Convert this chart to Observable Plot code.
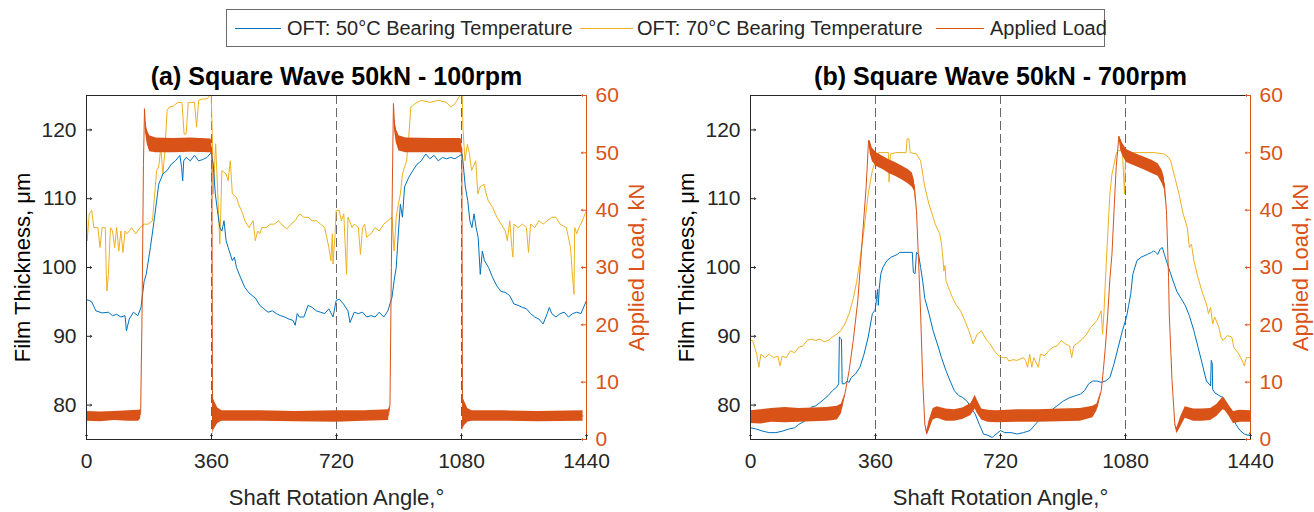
<!DOCTYPE html>
<html><head><meta charset="utf-8">
<script src="https://cdn.jsdelivr.net/npm/d3@7"></script>
<script src="https://cdn.jsdelivr.net/npm/@observablehq/plot@0.6"></script>
<style>
body{margin:0;background:#fff;font-family:"Liberation Sans",Arial,Helvetica,sans-serif;}
#wrap{position:relative;width:1314px;height:512px;overflow:hidden;background:#fff}
#legend{position:absolute;left:226px;top:9px;width:877px;height:36px;border:1px solid #6b6b6b;background:#fff}
#legend .ln{position:absolute;top:18px;height:0;border-top:1.4px solid}
#legend .tx{position:absolute;top:0;line-height:37px;font-size:20px;color:#262626;white-space:nowrap}
.panel{position:absolute;top:55px}
</style></head><body>
<div id="wrap">
  <div id="legend"></div>
  <div class="panel" id="pa" style="left:0px"></div>
  <div class="panel" id="pb" style="left:657px"></div>
</div>
<script>
// ---------- data ----------
const seriesNames = ["OFT: 50°C Bearing Temperature", "OFT: 70°C Bearing Temperature", "Applied Load"];
const seriesColors = ["#0072BD", "#EDB120", "#D95319"];
const titles = ["(a) Square Wave 50kN - 100rpm", "(b) Square Wave 50kN - 700rpm"];
const xTicks = [0, 360, 720, 1080, 1440];
const dashAngles = [360, 720, 1080];
const thickTicks = [80, 90, 100, 110, 120];
const loadTicks = [0, 10, 20, 30, 40, 50, 60];
const thickDomain = [75, 125];
const loadDomain = [0, 60];

// panel (a): [angle, film thickness um]
const blueA = [[0,95.3],[8,95.2],[15,95.0],[27,93.7],[45,93.4],[63,93.5],[75,93.0],[87,93.2],[99,92.8],[111,93.0],[115,90.8],[123,92.5],[135,93.5],[148,93.0],[157,94.2],[166,98.0],[172,99.0],[184,102.9],[196,107.3],[208,112.1],[220,113.6],[232,114.1],[244,115.0],[256,115.5],[269,116.3],[274,114.5],[277,112.6],[280,115.5],[287,116.0],[299,115.5],[311,116.3],[323,115.5],[335,115.7],[347,116.0],[359,116.7],[365,115.0],[371,110.7],[377,108.3],[384,105.8],[390,105.3],[396,106.8],[402,103.9],[408,102.9],[420,101.0],[426,101.5],[432,100.0],[444,98.5],[456,97.1],[468,96.3],[480,95.8],[486,95.6],[499,94.5],[511,94.0],[523,93.5],[535,93.7],[547,93.3],[559,93.0],[571,92.8],[583,92.5],[595,92.3],[601,91.6],[607,93.3],[613,92.8],[626,92.8],[638,94.5],[650,94.2],[662,93.7],[674,93.5],[686,93.3],[698,94.0],[710,92.8],[719,95.2],[728,95.4],[740,94.7],[753,93.7],[759,92.0],[771,93.5],[783,93.3],[795,93.5],[807,92.8],[819,93.0],[831,92.8],[843,93.5],[856,92.8],[868,93.7],[880,95.7],[886,98.1],[892,100.0],[898,104.9],[904,109.2],[910,107.3],[916,111.7],[928,113.1],[940,114.1],[952,115.0],[964,115.5],[977,116.5],[989,115.8],[1001,116.3],[1013,115.5],[1025,116.0],[1037,115.8],[1049,116.0],[1061,115.8],[1082,116.5],[1084,115.5],[1091,111.7],[1098,109.7],[1104,106.8],[1110,105.8],[1116,107.8],[1122,105.8],[1128,104.4],[1134,99.0],[1140,102.4],[1146,101.0],[1158,100.0],[1170,98.5],[1182,97.3],[1194,96.5],[1206,96.4],[1219,95.9],[1231,94.7],[1243,94.5],[1255,94.2],[1267,94.0],[1279,93.3],[1291,92.8],[1303,92.5],[1315,91.8],[1327,93.3],[1333,94.2],[1340,93.3],[1352,92.8],[1364,93.3],[1376,93.5],[1388,92.8],[1400,93.3],[1412,93.5],[1424,93.3],[1440,95.2]];
const yellowA = [[0,108.3],[2,103.9],[8,107.8],[15,108.3],[21,105.8],[33,105.8],[39,102.9],[45,105.8],[54,105.8],[57,99.0],[59,96.6],[63,99.0],[69,105.8],[75,105.3],[81,102.9],[87,105.8],[93,102.4],[99,105.3],[105,102.2],[111,105.3],[117,104.9],[130,105.8],[142,104.9],[154,105.8],[166,106.3],[178,106.3],[190,106.8],[202,114.1],[208,114.6],[214,117.5],[220,113.6],[226,117.0],[232,122.8],[238,123.3],[251,123.5],[263,124.0],[275,124.0],[281,119.4],[287,119.4],[293,124.0],[311,124.0],[317,120.4],[323,124.3],[335,124.5],[347,124.5],[359,125.2],[363,118.0],[365,110.7],[372,118.0],[378,110.7],[384,103.4],[390,114.1],[402,113.6],[408,112.6],[414,115.5],[420,110.7],[432,110.2],[438,109.2],[450,107.8],[456,106.8],[468,105.8],[480,106.8],[486,103.9],[493,105.3],[499,104.9],[505,105.8],[517,105.8],[529,106.3],[541,106.3],[553,106.8],[565,106.1],[577,105.6],[589,106.3],[601,106.8],[607,107.3],[614,107.8],[626,107.3],[638,107.3],[650,106.8],[662,106.8],[674,106.3],[686,105.8],[698,102.9],[704,101.0],[708,104.9],[710,100.5],[716,104.9],[719,108.3],[728,108.3],[734,106.8],[741,107.8],[747,101.0],[749,99.0],[753,107.3],[765,105.8],[771,106.3],[783,105.8],[789,101.9],[795,105.8],[801,106.3],[807,104.4],[819,104.9],[831,105.8],[843,105.3],[856,106.3],[868,106.8],[880,107.3],[886,102.4],[892,107.3],[898,109.2],[904,110.7],[910,113.6],[916,114.6],[922,115.5],[928,118.9],[934,123.3],[946,123.8],[964,124.3],[989,124.0],[1013,124.3],[1037,124.0],[1049,123.3],[1061,123.8],[1073,124.8],[1082,125.2],[1084,120.4],[1090,115.5],[1097,117.9],[1103,116.5],[1109,114.1],[1121,115.5],[1127,110.7],[1133,111.7],[1145,112.1],[1151,110.7],[1157,109.7],[1170,108.7],[1182,107.3],[1194,106.3],[1206,105.3],[1212,103.9],[1219,106.8],[1225,102.9],[1228,101.5],[1231,106.3],[1243,105.8],[1255,106.3],[1267,105.8],[1273,102.2],[1279,106.3],[1291,105.8],[1303,106.8],[1315,106.3],[1327,106.8],[1340,107.3],[1352,107.3],[1364,106.3],[1382,105.8],[1394,102.9],[1400,98.5],[1404,96.1],[1406,105.8],[1412,104.9],[1418,105.8],[1424,106.3],[1436,107.8],[1440,108.3]];
// panel (a): [angle, load low kN, load high kN] (noise band)
const loadA = [[0,3.2,4.9],[40,3.1,4.8],[80,3.3,4.9],[120,3.2,5.0],[150,3.2,5.1],[156,3.6,5.2],[160,22,22],[164,48,48],[167,57.7,57.7],[170,53.5,55.5],[175,51.5,54],[182,50.2,53],[200,50,52.6],[250,50,52.5],[300,50.1,52.6],[358,50,52.4],[361,49.5,52],[362,28,28],[363,0.8,3],[365,1.5,7.2],[370,2.0,6.5],[378,2.8,5.5],[390,3.2,5.0],[500,3.2,5.0],[600,3.1,4.9],[720,3.0,5.0],[800,3.2,5.0],[870,3.3,5.2],[874,6,6],[878,30,30],[882,50,50],[884,58.6,58.6],[887,54,56],[892,51.8,54.2],[900,50.3,53],[920,50,52.6],[1000,50,52.5],[1078,50,52.5],[1081,49.5,52],[1082,28,28],[1083,1.5,4],[1085,2,7.2],[1090,2.5,6.5],[1098,3.0,5.4],[1110,3.2,5.0],[1200,3.2,5.0],[1300,3.1,4.9],[1430,3.2,5.0]];

// panel (b)
const blueB = [[0,76.7],[18,76.5],[36,76.2],[54,76.0],[73,76.0],[91,76.2],[109,76.5],[127,76.7],[139,77.2],[157,77.7],[169,78.7],[175,79.7],[188,79.9],[206,80.6],[224,81.4],[236,82.1],[248,82.6],[254,83.1],[256,89.9],[262,89.6],[264,83.1],[272,83.1],[278,83.5],[284,83.3],[290,84.0],[302,84.5],[315,85.5],[327,87.4],[339,89.9],[351,93.3],[359,93.8],[363,95.5],[366,96.8],[368,94.5],[371,97.0],[375,99.0],[381,100.0],[393,101.0],[405,101.5],[423,101.9],[430,102.2],[448,102.2],[466,102.2],[469,99.3],[474,99.1],[478,102.2],[484,101.9],[490,100.0],[496,98.0],[502,95.5],[514,93.3],[526,90.8],[538,88.9],[550,86.9],[563,85.0],[575,83.5],[587,82.1],[599,81.4],[611,81.1],[623,80.6],[635,79.7],[647,78.7],[659,77.2],[671,75.8],[684,75.6],[696,75.3],[708,75.8],[720,76.3],[732,76.0],[750,76.0],[768,75.8],[786,76.0],[805,76.3],[817,77.0],[829,77.7],[847,78.4],[865,79.2],[883,79.9],[901,80.6],[920,81.1],[938,81.4],[950,81.6],[962,82.1],[974,83.1],[986,83.5],[998,83.5],[1010,83.3],[1022,83.5],[1035,84.0],[1047,86.0],[1059,88.4],[1071,90.8],[1083,92.8],[1089,94.5],[1095,96.1],[1101,99.0],[1113,101.0],[1125,101.5],[1143,101.9],[1155,102.2],[1161,102.4],[1167,102.2],[1173,101.9],[1180,102.7],[1186,102.9],[1192,101.9],[1204,100.0],[1216,98.2],[1228,96.5],[1240,95.5],[1252,94.5],[1264,93.0],[1277,90.8],[1289,88.4],[1301,86.0],[1313,83.5],[1325,82.8],[1327,86.5],[1330,86.0],[1331,82.3],[1337,81.8],[1349,81.4],[1361,81.1],[1373,80.1],[1386,78.7],[1398,77.2],[1410,76.3],[1422,75.8],[1434,75.6],[1440,76.1]];
const yellowB = [[0,89.4],[6,89.4],[12,88.4],[18,87.4],[24,85.5],[30,87.4],[42,86.9],[54,87.4],[66,86.9],[79,87.1],[85,85.7],[91,87.1],[103,86.9],[115,87.9],[127,87.6],[139,88.4],[151,88.6],[163,89.4],[175,89.6],[188,89.4],[200,89.6],[212,89.2],[224,89.4],[236,89.9],[248,90.3],[260,90.8],[272,91.8],[284,93.3],[296,95.5],[306,98.0],[315,101.0],[327,105.5],[339,110.7],[351,114.1],[363,116.0],[369,116.7],[397,116.7],[399,112.4],[403,116.5],[418,116.7],[448,116.7],[451,118.7],[456,118.7],[460,116.7],[478,116.5],[490,115.5],[502,111.7],[514,109.2],[526,107.3],[532,106.3],[545,104.9],[550,103.4],[554,101.5],[557,99.5],[560,100.3],[563,98.1],[570,97.1],[581,95.7],[593,94.5],[605,93.7],[617,92.3],[629,90.8],[641,88.9],[653,90.3],[665,90.8],[678,89.6],[690,88.9],[702,87.9],[714,87.2],[726,86.9],[738,86.9],[744,86.4],[756,86.6],[768,86.5],[786,86.9],[792,86.5],[798,85.5],[804,87.4],[810,85.5],[816,86.9],[829,85.5],[835,87.4],[847,87.2],[859,87.9],[871,88.4],[883,88.6],[895,89.4],[907,88.9],[919,88.6],[925,86.9],[931,88.6],[944,89.1],[956,89.6],[968,90.3],[980,91.3],[998,92.3],[1010,93.7],[1014,90.3],[1018,93.5],[1022,98.0],[1028,104.0],[1035,110.7],[1041,113.6],[1047,115.0],[1053,116.5],[1059,117.0],[1071,117.0],[1077,110.7],[1080,115.9],[1089,116.7],[1119,116.7],[1162,116.7],[1192,116.5],[1204,116.0],[1210,115.5],[1222,113.1],[1234,110.7],[1246,107.8],[1258,105.8],[1264,102.9],[1270,103.4],[1277,101.0],[1289,98.5],[1301,96.4],[1313,94.7],[1319,93.3],[1325,94.2],[1331,91.8],[1337,92.8],[1349,91.3],[1355,89.9],[1361,89.4],[1373,90.1],[1386,89.9],[1392,88.4],[1404,87.6],[1416,86.5],[1422,85.7],[1428,86.9],[1440,86.9]];
const loadB = [[0,2.8,5.0],[30,2.7,5.2],[60,3.0,5.4],[100,2.9,5.6],[140,3.0,5.4],[180,3.1,5.5],[220,3.2,5.6],[250,3.4,5.8],[262,4.5,6.2],[272,8,8],[284,12,12],[296,17.3,17.3],[309,24.2,24.2],[321,34.1,34.1],[333,44,44],[340,52.2,52.2],[345,49.8,52],[351,48.5,50.8],[363,47.6,50],[381,47.1,49.4],[399,46.4,48.8],[417,45.9,48.3],[436,45.3,47.7],[454,44.6,47.1],[466,44.0,46.5],[472,43.3,45.2],[478,39.9,39.9],[484,31.2,31.2],[490,21.9,21.9],[496,10.3,10.3],[502,2.7,2.7],[508,0.7,1.5],[514,1.5,3.2],[526,3.4,5.4],[538,3.7,5.7],[563,3.2,5.3],[587,3.2,5.2],[611,3.5,5.5],[635,4.2,6.3],[647,5.3,7.7],[653,4.6,6.9],[666,3.4,5.3],[684,3.0,5.1],[708,2.9,5.0],[770,3.0,5.2],[829,3.0,5.2],[890,3.1,5.3],[950,3.2,5.4],[986,3.8,5.8],[998,5.0,6.2],[1010,8.5,8.5],[1016,12,12],[1022,16.1,16.1],[1029,21.9,21.9],[1035,28,28],[1041,32.3,32.3],[1047,39.9,39.9],[1053,47.4,47.4],[1061,52.9,52.9],[1066,50.5,52.5],[1071,49.6,51.7],[1083,48.3,50.6],[1107,47.7,49.9],[1131,47.1,49.3],[1156,46.4,48.7],[1174,45.9,48.1],[1186,44.6,46.9],[1192,43.6,45.6],[1198,39.9,39.9],[1204,28.3,28.3],[1206,21.9,21.9],[1214,10.3,10.3],[1222,2.7,2.7],[1228,1.0,2.0],[1240,2.3,4.1],[1252,3.7,5.7],[1276,3.2,5.3],[1301,3.2,5.3],[1325,3.3,5.4],[1343,4.0,6.1],[1361,5.2,7.4],[1367,5.0,7.0],[1379,4.0,5.9],[1391,2.8,4.9],[1410,3.0,5.1],[1440,3.0,5.0]];

// ---------- drawing ----------
const FONT = '"Liberation Sans", Arial, Helvetica, sans-serif';
const INK = "#262626";
// map load (right axis) onto the thickness scale
const toT = L => thickDomain[0] + (L - loadDomain[0]) * (thickDomain[1] - thickDomain[0]) / (loadDomain[1] - loadDomain[0]);
const fromT = v => loadDomain[0] + (v - thickDomain[0]) * (loadDomain[1] - loadDomain[0]) / (thickDomain[1] - thickDomain[0]);

function panel(title, blue, yellow, load, ml, mr) {
  return Plot.plot({
    width: 657, height: 457,
    marginLeft: ml, marginRight: mr, marginTop: 40, marginBottom: 73,
    x: {domain: [0, 1440]},
    y: {domain: thickDomain},
    style: {fontFamily: FONT, fontSize: "21px", color: INK, background: "transparent", overflow: "visible"},
    marks: [
      Plot.ruleX(dashAngles, {stroke: "#4d4d4d", strokeOpacity: 0.85, strokeWidth: 1, strokeDasharray: "9,4"}),
      Plot.line(yellow, {x: d => d[0], y: d => d[1], stroke: seriesColors[1], strokeWidth: 1, clip: true}),
      Plot.line(blue, {x: d => d[0], y: d => d[1], stroke: seriesColors[0], strokeWidth: 1, clip: true}),
      Plot.areaY(load, {x: d => d[0], y1: d => toT(d[1]), y2: d => toT(d[2]), fill: seriesColors[2], clip: true}),
      Plot.line(load, {x: d => d[0], y: d => toT((d[1] + d[2]) / 2), stroke: seriesColors[2], strokeWidth: 1, clip: true}),
      Plot.ruleY([thickDomain[1]], {stroke: INK, strokeWidth: 1}),
      Plot.ruleY([thickDomain[0]], {stroke: INK, strokeWidth: 1}),
      Plot.ruleX([0], {stroke: INK, strokeWidth: 1}),
      Plot.ruleX([1440], {stroke: seriesColors[2], strokeWidth: 1}),
      // inward tick marks
      Plot.vector(xTicks, {x: d => d, frameAnchor: "bottom", length: 5, rotate: 0, anchor: "start", stroke: INK, strokeWidth: 1}),
      Plot.vector(thickTicks, {y: d => d, frameAnchor: "left", length: 5, rotate: 90, anchor: "start", stroke: INK, strokeWidth: 1}),
      Plot.vector(loadTicks, {y: d => toT(d), frameAnchor: "right", length: 5, rotate: -90, anchor: "start", stroke: seriesColors[2], strokeWidth: 1}),
      Plot.axisX({anchor: "bottom", ticks: xTicks, tickFormat: d => String(d), tickSize: 0, tickPadding: 14, fontSize: 21, label: null}),
      Plot.axisY({anchor: "left", ticks: thickTicks, tickFormat: d => String(d), tickSize: 0, tickPadding: 10, fontSize: 21, label: null}),
      Plot.axisY({anchor: "right", ticks: loadTicks.map(toT), tickFormat: v => String(Math.round(fromT(v))), tickSize: 0, tickPadding: 9, fontSize: 21, color: seriesColors[2], label: null}),
      Plot.text([title], {frameAnchor: "top", lineAnchor: "middle", textAnchor: "middle", dy: -19, fontSize: 25, fontWeight: "bold", fill: "#000"}),
      Plot.text(["Shaft Rotation Angle,°"], {frameAnchor: "bottom", lineAnchor: "middle", textAnchor: "middle", dy: 58, fontSize: 22, fill: INK}),
      Plot.text(["Film Thickness, μm"], {frameAnchor: "left", lineAnchor: "middle", textAnchor: "middle", dx: -64, rotate: -90, fontSize: 22, fill: "#000"}),
      Plot.text(["Applied Load, kN"], {frameAnchor: "right", lineAnchor: "middle", textAnchor: "middle", dx: 50, rotate: -90, fontSize: 22, fill: seriesColors[2]})
    ]
  });
}

document.getElementById("pa").appendChild(panel(titles[0], blueA, yellowA, loadA, 86, 71));
document.getElementById("pb").appendChild(panel(titles[1], blueB, yellowB, loadB, 93, 64));

// legend
const leg = document.getElementById("legend");
const lx = [[8, 46, 60], [353, 53, 410], [709, 48, 763]];
seriesNames.forEach((n, i) => {
  const l = document.createElement("div");
  l.className = "ln"; l.style.left = lx[i][0] + "px"; l.style.width = lx[i][1] + "px"; l.style.borderTopColor = seriesColors[i];
  const t = document.createElement("div");
  t.className = "tx"; t.style.left = lx[i][2] + "px"; t.textContent = n;
  leg.appendChild(l); leg.appendChild(t);
});
</script>
</body></html>
